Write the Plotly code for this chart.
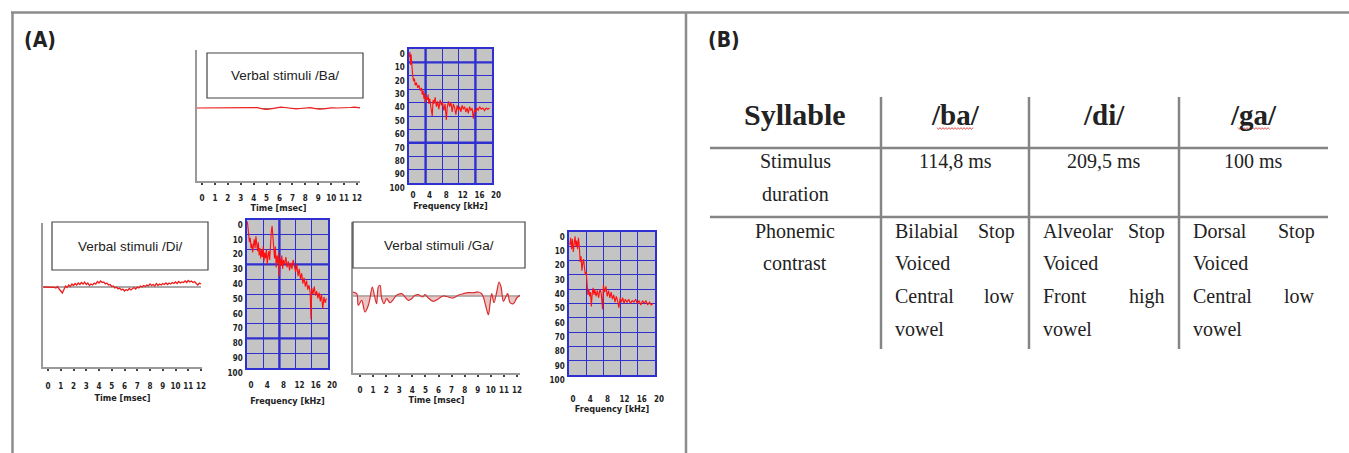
import plotly.graph_objects as go

W, H = 1349, 453

# ---------------- data ----------------
time_ticks = list(range(13))
freq_ticks = [0, 4, 8, 12, 16, 20]
db_ticks = list(range(0, 101, 10))

ba_wave_t = [-0.39, 0.0, 1.0, 2.0, 3.0, 3.5, 3.8, 4.0, 4.3, 4.6, 4.9, 5.2, 5.5, 5.8, 6.1, 6.4,
             6.7, 7.0, 7.3, 7.6, 8.0, 8.4, 8.8, 9.1, 9.4, 9.7, 10.0, 10.5, 11.0, 11.5, 11.8, 12.1, 12.23]
ba_wave_v = [0, 0, 0, 0, 0, 0, 0.3, 0.6, 0.3, -0.6, -1.3, -1.1, -0.3, 0.3, 0.9, 0.5,
             0, -0.7, -0.9, -0.5, 0.2, 0.3, -0.6, -1.2, -0.9, 0, 0.2, 0, 0, 0.5, 0.9, 0.3, 0.2]

di_wave_v = [0, 0, 0, 0, 0, 0, 0.3, -0.3,
             -1, 0.5, -2, -3.5, -6, -2.5, 1, -0.5,
             2, 0.5, 3, 1.5, 3.5, 2, 4, 2.5,
             4.5, 3, 5, 2.5, 4, 1.5, 3, 2,
             4, 3, 5.5, 4, 6, 4.5, 5, 3,
             4, 2, 2.5, 0.5, 1, -1, 0, -2,
             -1, -3, -2, -4, -2.5, -3.5, -1.5, -3,
             -2, -0.5, -2, 0, -1, 1, 0, 1.5,
             0.5, 2, 1, 3, 1.5, 2.5, 1, 3.5,
             1.5, 3, 2, 3.5, 2.5, 4, 2.5, 4,
             3, 4.5, 3.5, 5, 3.5, 5.5, 4, 5,
             4.5, 6, 4.5, 6.5, 5, 6, 4.5, 5.5,
             3.5, 2, 4, 3]
di_wave_t = [-0.375 + 0.125 * i for i in range(len(di_wave_v))]

ga_wave_t = [-0.56, -0.25, -0.13, 0.13, 0.38, 0.64, 0.76, 0.94, 1.1, 1.27, 1.4, 1.53, 1.66, 1.83,
             2.04, 2.29, 2.55, 2.8, 3.19, 3.44, 3.7, 3.95, 4.2, 4.46, 4.79, 4.97, 5.22, 5.6, 6.0,
             6.37, 6.75, 7.13, 7.5, 7.9, 8.28, 8.66, 9.04, 9.3, 9.43, 9.63, 9.81, 9.94, 10.07,
             10.24, 10.45, 10.63, 10.78, 10.96, 11.14, 11.29, 11.47, 11.72, 11.98, 12.23]
ga_wave_v = [4, 2.3, -9.3, -4.3, -16, -9.3, -2.7, 9, 0.7, -7.7, 9, 10.7, -2.7, -7.7,
             -2.7, -6.7, -3.3, 0.7, 2.3, -1, -4.3, -2.7, 0.7, 1.3, -1, 1.3, -2, -5.3, -2.7,
             0, -1, -2, 0.7, 2.3, 3.3, 3.3, 4, 2.3, -1, -11, -18.7, -7.7, 2.3,
             -6.7, 4, 14, 9, -5.3, -1, 2.3, -6.7, -7.7, -2, 0.7]

ba_spec_f = [0.1, 0.2, 0.3, 0.4, 0.5, 0.6, 0.7, 0.9, 1.1, 1.3, 1.5, 1.8, 2.1, 2.4, 2.7, 3.0, 3.2,
             3.4, 3.6, 3.8, 4.0, 4.2, 4.4, 4.6, 4.8, 5.0, 5.3, 5.6, 5.8, 6.0, 6.3, 6.6, 6.9, 7.2,
             7.5, 7.8, 8.1, 8.4, 8.7, 9.0, 9.2, 9.5, 9.8, 10.1, 10.4, 10.7, 11.0, 11.3, 11.6,
             11.9, 12.2, 12.5, 12.8, 13.1, 13.4, 13.7, 14.0, 14.3, 14.6, 14.9, 15.2, 15.5, 15.8,
             16.1, 16.4, 16.7, 17.0, 17.4, 17.8, 18.2, 18.6, 19.0, 19.4]
ba_spec_db = [6, 2, 8, 12, 4, 10, 14, 20, 24, 22, 27, 25, 29, 27, 31, 29, 34,
              31, 37, 33, 40, 36, 38, 34, 41, 37, 44, 50, 38, 41, 36, 43, 39, 45,
              38, 42, 40, 46, 41, 53, 44, 39, 43, 40, 47, 41, 44, 49, 42,
              46, 43, 47, 42, 45, 43, 47, 44, 48, 43, 46, 44, 52, 45,
              47, 44, 46, 43, 45, 44, 46, 44, 45, 44]

di_spec_f = [0.1, 0.2, 0.4, 0.6, 0.8, 1.0, 1.2, 1.4, 1.6, 1.8, 2.0, 2.2, 2.4, 2.6, 2.8, 3.0, 3.2,
             3.4, 3.6, 3.8, 4.0, 4.2, 4.4, 4.6, 4.8, 5.0, 5.2, 5.4, 5.6, 5.8, 6.0, 6.2, 6.4, 6.6,
             6.8, 7.0, 7.2, 7.4, 7.6, 7.8, 8.0, 8.2, 8.4, 8.6, 8.8, 9.0, 9.3, 9.6, 9.9, 10.2,
             10.5, 10.8, 11.1, 11.4, 11.7, 12.0, 12.3, 12.6, 12.9, 13.2, 13.5, 13.8, 14.1, 14.4,
             14.7, 15.0, 15.3, 15.6, 15.8, 16.0, 16.3, 16.6, 16.9, 17.2, 17.5, 17.8, 18.1, 18.4,
             18.7, 19.0, 19.3, 19.6]
di_spec_db = [1, 4, 10, 15, 12, 19, 16, 22, 17, 13, 19, 11, 16, 21, 15, 24, 19,
              26, 20, 25, 18, 28, 22, 26, 20, 30, 24, 21, 27, 14, 8, 4, 12, 20,
              26, 18, 32, 24, 29, 22, 38, 26, 31, 24, 33, 27, 30, 25, 32, 28,
              34, 29, 33, 27, 31, 35, 30, 38, 33, 40, 36, 43, 39, 45,
              41, 47, 44, 49, 67, 46, 50, 45, 51, 48, 53, 49, 55, 50,
              60, 52, 56, 53]

ga_spec_f = [0.2, 0.4, 0.6, 0.8, 1.0, 1.2, 1.4, 1.6, 1.8, 2.0, 2.2, 2.4, 2.6, 2.8, 3.0, 3.2, 3.4,
             3.6, 3.8, 4.0, 4.2, 4.4, 4.6, 4.8, 5.0, 5.2, 5.4, 5.6, 5.8, 6.0, 6.3, 6.6, 6.9, 7.2,
             7.5, 7.8, 8.0, 8.3, 8.6, 8.9, 9.2, 9.5, 9.8, 10.1, 10.4, 10.7, 11.0, 11.3, 11.6,
             11.9, 12.2, 12.5, 12.8, 13.1, 13.5, 13.9, 14.3, 14.7, 15.1, 15.5, 15.9, 16.3, 16.7,
             17.1, 17.5, 17.9, 18.3, 18.7, 19.1, 19.5]
ga_spec_db = [9, 4, 12, 5, 14, 8, 3, 10, 6, 12, 4, 10, 21, 17, 27, 22, 19,
              25, 30, 28, 38, 44, 40, 45, 42, 52, 43, 39, 44, 40, 45, 41, 46, 40,
              43, 54, 37, 42, 38, 45, 41, 46, 42, 47, 44, 49, 45, 48, 53,
              46, 49, 46, 50, 47, 49, 47, 50, 48, 49, 47, 50, 48, 51,
              48, 50, 48, 51, 49, 51, 50]

syllables = ["/ba/", "/di/", "/ga/"]
durations = ["114,8 ms", "209,5 ms", "100 ms"]
contrast_lines = [
    [("Bilabial", "Stop"), ("Voiced", ""), ("Central", "low"), ("vowel", "")],
    [("Alveolar", "Stop"), ("Voiced", ""), ("Front", "high"), ("vowel", "")],
    [("Dorsal", "Stop"), ("Voiced", ""), ("Central", "low"), ("vowel", "")],
]
stimulus_labels = ["Verbal stimuli /Ba/", "Verbal stimuli /Di/", "Verbal stimuli /Ga/"]

# ---------------- helpers ----------------
def xdom(a, b):
    return [a / W, b / W]

def ydom(top, bot):
    return [1 - bot / H, 1 - top / H]

def px(x):
    return x / W

def py(y):
    return 1 - y / H

NARROW = "Liberation Sans Narrow, DejaVu Sans Condensed, Arial Narrow, sans-serif"
SANS = "Liberation Sans, Arial, sans-serif"
SERIF = "Liberation Serif, Times New Roman, serif"
tickfont = dict(family=NARROW, size=8, color="#222222", weight="bold")
titlefont = dict(family=NARROW, size=9, color="#222222", weight="bold")
RED = "#ee1c1c"
BLUE = "#3030d0"
AXGRAY = "#9a9a9a"

fig = go.Figure()

fig.add_trace(go.Scatter(x=ba_wave_t, y=ba_wave_v, mode="lines", line=dict(color=RED, width=1.2),
                         fill="tozeroy", fillcolor="rgba(110,70,70,0.7)", xaxis="x", yaxis="y",
                         hoverinfo="skip", showlegend=False))
fig.add_trace(go.Scatter(x=[di_wave_t[0], di_wave_t[-1]], y=[0, 0], mode="lines",
                         line=dict(color="#555555", width=1.2), xaxis="x3", yaxis="y3",
                         hoverinfo="skip", showlegend=False))
fig.add_trace(go.Scatter(x=di_wave_t, y=di_wave_v, mode="lines", line=dict(color=RED, width=1.3),
                         xaxis="x3", yaxis="y3", hoverinfo="skip", showlegend=False))
fig.add_trace(go.Scatter(x=[ga_wave_t[0], ga_wave_t[-1]], y=[0, 0], mode="lines",
                         line=dict(color="#666666", width=1.2), xaxis="x5", yaxis="y5",
                         hoverinfo="skip", showlegend=False))
fig.add_trace(go.Scatter(x=ga_wave_t, y=ga_wave_v, mode="lines", line=dict(color="#d83030", width=1.2, shape="spline"),
                         fill="tozeroy", fillcolor="rgba(215,150,150,0.55)", xaxis="x5", yaxis="y5",
                         hoverinfo="skip", showlegend=False))

for f, d, xa, ya in [(ba_spec_f, ba_spec_db, "x2", "y2"),
                     (di_spec_f, di_spec_db, "x4", "y4"),
                     (ga_spec_f, ga_spec_db, "x6", "y6")]:
    fig.add_trace(go.Scatter(x=f, y=d, mode="lines", line=dict(color="#ff1010", width=1.1),
                             xaxis=xa, yaxis=ya, hoverinfo="skip", showlegend=False))

wave_boxes = {
    1: dict(xd=(197, 360), yd=(50, 181), rng=[-0.387, 12.232], yr=[-73, 58], lso=7, tso=1),
    3: dict(xd=(43, 202), yd=(223, 367), rng=[-0.392, 12.078], yr=[-80, 64], lso=9, tso=4),
    5: dict(xd=(353, 520), yd=(222, 373), rng=[-0.535, 12.229], yr=[-77, 74], lso=7, tso=2),
}
spec_boxes = {
    2: dict(xd=(409, 492), yd=(49, 183), lso=4, tso=3),
    4: dict(xd=(247, 328), yd=(220, 368), lso=9, tso=8),
    6: dict(xd=(569, 655), yd=(232, 375), lso=16, tso=2),
}

layout_axes = {}
for i, b in wave_boxes.items():
    sx = "" if i == 1 else str(i)
    layout_axes["xaxis" + sx] = dict(
        domain=xdom(*b["xd"]), anchor="y" + sx, range=b["rng"], showline=True, linecolor=AXGRAY,
        linewidth=1.5, ticks="outside", ticklen=2, tickwidth=2, tickcolor="#444444",
        tickvals=time_ticks, tickfont=tickfont, showgrid=False, zeroline=False, automargin=False,
        ticklabelstandoff=b["lso"],
        title=dict(text="Time [msec]", font=titlefont, standoff=b["tso"]))
    layout_axes["yaxis" + sx] = dict(
        domain=ydom(*b["yd"]), anchor="x" + sx, range=b["yr"], showline=True, linecolor=AXGRAY,
        linewidth=1.5, showticklabels=False, ticks="", showgrid=False, zeroline=False, automargin=False)

for i, b in spec_boxes.items():
    sx = str(i)
    layout_axes["xaxis" + sx] = dict(
        domain=xdom(*b["xd"]), anchor="y" + sx, range=[0, 20], tickvals=freq_ticks,
        showgrid=True, gridcolor=BLUE, gridwidth=1, showline=True, mirror=True, linecolor=BLUE,
        linewidth=1.5, ticks="", zeroline=False, tickfont=tickfont, ticklabelshift=4,
        ticklabelstandoff=b["lso"], automargin=False,
        title=dict(text="Frequency [kHz]", font=titlefont, standoff=b["tso"]))
    layout_axes["yaxis" + sx] = dict(
        domain=ydom(*b["yd"]), anchor="x" + sx, range=[100, 0], tickvals=db_ticks,
        showgrid=True, gridcolor=BLUE, gridwidth=1, showline=True, mirror=True, linecolor=BLUE,
        linewidth=1.5, ticks="", zeroline=False, tickfont=tickfont, ticklabelshift=-5,
        ticklabelstandoff=1, automargin=False)

shapes = []
for i in spec_boxes:
    shapes.append(dict(type="rect", xref="x%d domain" % i, yref="y%d domain" % i,
                       x0=0, x1=1, y0=0, y1=1, fillcolor="#c4c4c4", line=dict(width=0), layer="below"))
heavy = {2: ([4, 16], [10, 70]), 4: ([8], [30, 80]), 6: ([], [])}
for i, (vx, hy) in heavy.items():
    for v in vx:
        shapes.append(dict(type="line", xref="x%d" % i, yref="y%d domain" % i, x0=v, x1=v, y0=0, y1=1,
                           line=dict(color=BLUE, width=2.4), layer="below"))
    for h in hy:
        shapes.append(dict(type="line", xref="x%d domain" % i, yref="y%d" % i, x0=0, x1=1, y0=h, y1=h,
                           line=dict(color=BLUE, width=2.4), layer="below"))

label_boxes = [(207, 363, 53, 98), (52, 208, 222, 270), (353, 525, 222, 268)]
annotations = []
for (x0, x1, y0, y1), txt in zip(label_boxes, stimulus_labels):
    shapes.append(dict(type="rect", xref="paper", yref="paper", x0=px(x0), x1=px(x1), y0=py(y1), y1=py(y0),
                       line=dict(color="#444444", width=1.2), fillcolor="white", layer="above"))
    annotations.append(dict(text=txt, xref="paper", yref="paper", x=px((x0 + x1) / 2), y=py((y0 + y1) / 2),
                            xanchor="center", yanchor="middle", showarrow=False,
                            font=dict(family=SANS, size=13.5, color="#222222")))

FRAME = "#8c8c8c"
shapes += [
    dict(type="line", xref="paper", yref="paper", x0=px(11), x1=1, y0=py(12.5), y1=py(12.5),
         line=dict(color=FRAME, width=2.5)),
    dict(type="line", xref="paper", yref="paper", x0=px(12.5), x1=px(12.5), y0=0, y1=py(12),
         line=dict(color=FRAME, width=2.5)),
    dict(type="line", xref="paper", yref="paper", x0=px(686), x1=px(686), y0=0, y1=py(12),
         line=dict(color=FRAME, width=2.5)),
]
for t, x in [("(A)", 22), ("(B)", 706)]:
    annotations.append(dict(text="<b>%s</b>" % t, xref="paper", yref="paper", x=px(x), y=py(40),
                            xanchor="left", yanchor="middle", showarrow=False,
                            font=dict(family=NARROW, size=21, color="#222222")))

TL = "#858585"
for xv in [881, 1029, 1179]:
    shapes.append(dict(type="line", xref="paper", yref="paper", x0=px(xv), x1=px(xv), y0=py(349), y1=py(97),
                       line=dict(color=TL, width=2.5)))
for yv in [148, 217]:
    shapes.append(dict(type="line", xref="paper", yref="paper", x0=px(710), x1=px(1328), y0=py(yv), y1=py(yv),
                       line=dict(color=TL, width=2.5)))

for (sx0, sx1) in [(937, 973), (1238, 1270)]:
    pts = []
    xx = sx0
    k = 0
    while xx <= sx1:
        pts.append("%s%.5f,%.5f" % ("M" if k == 0 else "L", px(xx), py(128.5 + (0.9 if k % 2 else -0.9))))
        xx += 1.5
        k += 1
    shapes.append(dict(type="path", xref="paper", yref="paper", path=" ".join(pts),
                       line=dict(color="#e03030", width=0.8)))

def tann(text, x, y, anchor="center", size=20, bold=False):
    return dict(text=("<b>%s</b>" % text) if bold else text, xref="paper", yref="paper",
                x=px(x), y=py(y), xanchor=anchor, yanchor="middle", showarrow=False,
                font=dict(family=SERIF, size=size, color="#222222"))

annotations.append(tann("Syllable", 795, 115, size=30, bold=True))
col_centers = [955, 1104, 1253]
col_left = [893, 1041, 1191]
col_right = [1017, 1167, 1317]
for c, s in zip(col_centers, syllables):
    annotations.append(tann(s, c, 115, size=29, bold=True))
annotations.append(tann("Stimulus", 795, 161))
annotations.append(tann("duration", 795, 194))
for c, d in zip(col_centers, durations):
    annotations.append(tann(d, c, 161))
annotations.append(tann("Phonemic", 795, 231))
annotations.append(tann("contrast", 795, 263))
line_y = [231, 263, 296, 329]
for ci, lines in enumerate(contrast_lines):
    for (left, right), yv in zip(lines, line_y):
        annotations.append(tann(left, col_left[ci], yv, anchor="left"))
        if right:
            annotations.append(tann(right, col_right[ci], yv, anchor="right"))

fig.update_layout(
    width=W, height=H, margin=dict(l=0, r=0, t=0, b=0, autoexpand=False),
    paper_bgcolor="white", plot_bgcolor="rgba(0,0,0,0)",
    shapes=shapes, annotations=annotations, showlegend=False,
    **layout_axes,
)

fig.write_html("out.html",
               post_script="document.body.style.margin='0px';document.body.style.overflow='hidden';",
               config={"displayModeBar": False})
